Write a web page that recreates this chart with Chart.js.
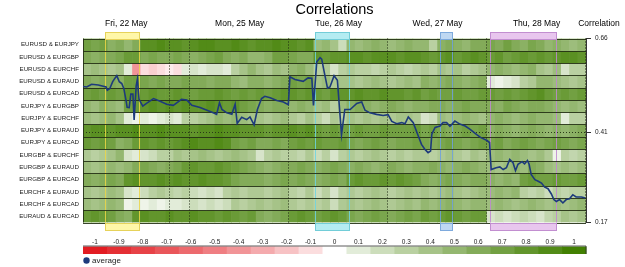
<!DOCTYPE html>
<html><head><meta charset="utf-8">
<script src="https://cdn.jsdelivr.net/npm/chart.js@4.4.1/dist/chart.umd.min.js"></script>
<style>html,body{margin:0;padding:0;background:#fff;overflow:hidden}canvas{display:block}</style>
</head><body>
<canvas id="c" width="625" height="267"></canvas>
<script>
// ---------- DATA ----------
const rowNames = ['EURUSD & EURJPY','EURUSD & EURGBP','EURUSD & EURCHF','EURUSD & EURAUD','EURUSD & EURCAD',
  'EURJPY & EURGBP','EURJPY & EURCHF','EURJPY & EURAUD','EURJPY & EURCAD','EURGBP & EURCHF',
  'EURGBP & EURAUD','EURGBP & EURCAD','EURCHF & EURAUD','EURCHF & EURCAD','EURAUD & EURCAD'];
const colHours = 2; // each heatmap column covers 2 hours
const eurusd_eurjpy = [0.7,0.65,0.7, 0.55,0.6,0.5,0.6, 0.85,0.85,0.9,0.85,0.85,0.8,0.85,0.9,0.9,0.85,0.85,0.9,0.85,0.8,0.85,0.85,0.9,0.85,0.85,0.8,0.85, 0.45,0.5,0.4,0.2, 0.5,0.45,0.5,0.55,0.5,0.45,0.5,0.55,0.5, 0.5,0.3,0.55,0.6,0.55,0.5,0.6,0.6, 0.65,0.6,0.7,0.6,0.55,0.65,0.6,0.5,0.55, 0.5,0.45,0.5];
const eurusd_eurgbp = [0.6,0.55,0.6,0.6,0.65, 0.75,0.75, 0.6,0.65,0.6,0.6,0.65,0.6,0.55, 0.6,0.65,0.7,0.6,0.55,0.6,0.5, 0.5,0.55,0.7,0.7, 0.65,0.6,0.6, 0.8,0.75,0.8,0.8, 0.85,0.85,0.8,0.85,0.85,0.85,0.8,0.85,0.85, 0.8,0.75,0.8,0.85,0.75,0.8,0.85,0.8, 0.75,0.8,0.7,0.75,0.8,0.75,0.8,0.75,0.8, 0.85,0.85,0.8];
const eurusd_eurchf = [0.4,0.45,0.4,0.35,0.4, 0.1, -0.4, -0.1,-0.15,-0.1,-0.05,-0.1, 0.1,0.15,0.1,0.15,0.15,0.1, 0.3,0.4,0.5, 0.4,0.35,0.45,0.4, 0.5,0.55,0.45, 0.3,0.35,0.15,0.3, 0.35,0.3,0.3,0.25,0.3,0.35,0.3,0.25,0.3, 0.35,0.3,0.4,0.35,0.4,0.3,0.35,0.4, 0.5,0.55,0.5,0.45,0.5,0.55,0.4,0.35,0.45, 0.15,0.3,0.3];
const eurusd_euraud = [0.6,0.55,0.6,0.6,0.55, 0.7,0.7, 0.65,0.6,0.65,0.6,0.6,0.65,0.6,0.6,0.55,0.6,0.6,0.5,0.45,0.55, 0.55,0.5,0.55,0.6, 0.7,0.65,0.7, 0.4,0.45,0.35,0.4, 0.4,0.35,0.4,0.45,0.4,0.35,0.4,0.45,0.4, 0.55,0.5,0.55,0.6,0.55,0.5,0.55,0.6, 0.1,0.05,0.1,0.15, 0.3,0.35,0.5,0.5,0.45, 0.4,0.35,0.4];
const eurusd_eurcad = [0.7,0.75,0.7,0.75,0.7,0.8,0.8,0.75,0.8,0.75,0.75,0.8,0.75,0.7,0.75,0.75,0.8,0.75,0.7,0.75,0.7, 0.75,0.7,0.75,0.8,0.8,0.75,0.8,0.75,0.7,0.8,0.8,0.8,0.85,0.8,0.8,0.85,0.8,0.8,0.75,0.8, 0.7,0.75,0.7,0.7,0.75,0.7,0.7,0.75,0.75,0.7,0.75,0.7,0.75,0.8,0.85,0.75,0.7,0.75,0.7,0.75];
const eurjpy_eurgbp = [0.5,0.45,0.55,0.5,0.45, 0.7,0.75, 0.8,0.85,0.8,0.85,0.8,0.85,0.8,0.8,0.85,0.8,0.75,0.8,0.7,0.65, 0.6,0.55,0.6,0.6, 0.5,0.55,0.5, 0.4,0.45,0.3,0.45, 0.55,0.6,0.55,0.5,0.55,0.6,0.55,0.5,0.55, 0.55,0.6,0.6,0.55,0.6,0.65,0.6,0.6, 0.6,0.55,0.65,0.6,0.55,0.6,0.6,0.55,0.5, 0.45,0.5,0.45];
const eurjpy_eurchf = [0.45,0.4,0.45,0.5,0.4, 0.1,0.05,0.1,0.05,0.1,0.15,0.1, 0.3,0.3,0.35,0.4, 0.5,0.45,0.5,0.45,0.4, 0.4,0.35,0.4,0.45, 0.35,0.3,0.4,0.3,0.2,0.35,0.3, 0.4,0.35,0.4,0.35,0.4,0.35,0.4,0.4,0.35, 0.15,0.2, 0.45,0.4,0.45,0.5,0.45,0.4, 0.5,0.55,0.5,0.45,0.5,0.55,0.5,0.5,0.45, 0.1,0.3,0.3];
const eurjpy_euraud = [0.8,0.85,0.85,0.8,0.85,0.85,0.9,0.85,0.85,0.9,0.85,0.85,0.85,0.8,0.85,0.85,0.9,0.85,0.85,0.8,0.8,0.8,0.75,0.8,0.8,0.85,0.8,0.85, 0.75,0.7,0.75,0.7,0.7,0.75,0.7,0.7,0.75,0.7,0.7,0.7,0.75, 0.65,0.7,0.65,0.6,0.65,0.7,0.65,0.7, 0.55,0.6,0.55,0.5,0.55,0.6,0.55,0.5,0.55,0.5,0.55,0.6];
const eurjpy_eurcad = [0.75,0.7,0.75,0.7, 0.55,0.6, 0.75,0.8,0.75,0.8,0.75,0.8, 0.85,0.9,0.85,0.85,0.9,0.85, 0.7,0.65,0.7, 0.6,0.6,0.65,0.6, 0.7,0.75,0.7,0.75,0.7,0.7,0.75, 0.65,0.6,0.65,0.7,0.65,0.6,0.65,0.65,0.7, 0.65,0.6,0.65,0.7,0.65,0.6,0.65,0.7, 0.65,0.7,0.6,0.65,0.7,0.65,0.6,0.65,0.7,0.65,0.6,0.65];
const eurgbp_eurchf = [0.35,0.3,0.35,0.4, 0.5, 0.15,0.1,0.15,0.2, 0.3,0.3, 0.4,0.35,0.4,0.45,0.4,0.35,0.4,0.45,0.4,0.35, 0.15,0.3,0.35,0.3, 0.3,0.25,0.35,0.2,0.3,0.15,0.3, 0.35,0.3,0.35,0.4,0.35,0.3,0.35,0.3,0.35, 0.35,0.3,0.35,0.4,0.35,0.3,0.4,0.35, 0.45,0.5,0.45,0.5,0.45,0.4,0.45, 0.35,0.05, 0.3,0.25,0.3];
const eurgbp_euraud = [0.45,0.4,0.45,0.5,0.45,0.5, 0.6,0.65,0.6,0.55,0.6,0.65, 0.75,0.8,0.75,0.75,0.8,0.75,0.7,0.65,0.6, 0.55,0.5,0.55,0.6, 0.6,0.65,0.6,0.55,0.6,0.65,0.6, 0.55,0.6,0.55,0.5,0.55,0.6,0.55,0.5,0.55, 0.55,0.6,0.55,0.5,0.55,0.6,0.55,0.5, 0.45,0.4,0.45,0.5,0.45,0.6,0.55,0.45,0.4,0.45,0.4,0.45];
const eurgbp_eurcad = [0.6,0.55,0.6,0.65,0.6, 0.8,0.85,0.8,0.8,0.85,0.8,0.85,0.8,0.8,0.85,0.8,0.8,0.75, 0.65,0.6,0.6, 0.6,0.55,0.6,0.65,0.6,0.65,0.6,0.55,0.6,0.65,0.6, 0.75,0.8,0.75,0.75,0.8,0.75,0.8,0.75,0.7, 0.6,0.55,0.6,0.65,0.6,0.55,0.6,0.6, 0.55,0.5,0.55,0.5, 0.7,0.75,0.7,0.7,0.75,0.7,0.7,0.75];
const eurchf_euraud = [0.4,0.35,0.4,0.45,0.4, 0.15,0.1,0.2, 0.3,0.35,0.3,0.25,0.3,0.2,0.15,0.2,0.15,0.3, 0.35,0.3,0.35, 0.35,0.3,0.35,0.4,0.3,0.25,0.35,0.2,0.3,0.15,0.3, 0.35,0.3,0.35,0.4,0.35,0.3,0.35,0.4,0.35, 0.4,0.35,0.4,0.45,0.4,0.35,0.4,0.45, 0.45,0.5,0.45,0.5, 0.3,0.25,0.3,0.2,0.3,0.25,0.3,0.3];
const eurchf_eurcad = [0.45,0.4,0.45,0.5,0.45, 0.05,0.1,0.05,0.1,0.05,0.1,0.1, 0.15,0.2,0.15,0.2,0.15,0.2, 0.35,0.3,0.35, 0.4,0.35,0.4,0.45,0.35,0.3,0.35,0.3,0.35,0.2,0.35, 0.4,0.35,0.4,0.45,0.4,0.35,0.4,0.45,0.4, 0.5,0.45,0.5,0.55,0.5,0.45,0.5,0.5, 0.45,0.5,0.45,0.4,0.45,0.5,0.45,0.4,0.45,0.4,0.45,0.5];
const euraud_eurcad = [0.75,0.8,0.75,0.7, 0.6,0.55, 0.8,0.85,0.8,0.8,0.85,0.8,0.8,0.85,0.8,0.8,0.75,0.8,0.75,0.7,0.75, 0.6,0.55,0.6,0.65, 0.75,0.8,0.75,0.7,0.75,0.8,0.75, 0.65,0.6,0.65,0.7,0.65,0.6,0.65,0.7,0.65, 0.75,0.7,0.75,0.8,0.75,0.7,0.75,0.75, 0.15,0.2,0.15,0.2,0.25,0.2,0.15,0.25,0.3, 0.4,0.35,0.4];
const heatRows = [eurusd_eurjpy, eurusd_eurgbp, eurusd_eurchf, eurusd_euraud, eurusd_eurcad,
  eurjpy_eurgbp, eurjpy_eurchf, eurjpy_euraud, eurjpy_eurcad, eurgbp_eurchf,
  eurgbp_euraud, eurgbp_eurcad, eurchf_euraud, eurchf_eurcad, euraud_eurcad];

// average correlation (hours since start, value)
const avgTime = [0,0.9,2.1,3.7,4.9,5.6,5.9,6.5,7.2,7.8,8.2,8.8,9.4,9.9,10.5,10.7,11.2,11.6,12.1,12.4,12.9,13.2,13.6,14.5,15.4,17.1,18.7,20.3,21.9,23.9,25.2,26.4,28.4,31.6,32.4,33.1,33.7,34.9,36.1,36.9,37.4,38.5,39.7,40.5,41.5,42.3,43.3,44.1,45.4,47.0,48.6,49.8,50.2,51.4,53.4,54.6,55.5,55.9,56.7,57.5,57.9,58.5,59.3,59.9,60.9,61.7,62.7,63.5,64.8,66.4,67.6,68.4,69.6,71.2,72.8,74.0,74.9,76.1,77.3,78.1,78.9,80.1,81.3,82.1,82.9,83.7,84.3,84.6,85.4,86.6,87.3,88.2,89.0,90.2,91.4,92.7,93.9,95.5,96.5,97.9,98.6,99.0,100.2,101.1,101.9,102.7,103.5,104.3,104.9,105.5,106.5,107.1,107.8,108.2,108.7,109.6,110.4,111.2,112.0,112.8,113.6,114.2,114.8,115.6,116.4,117.2,118.0,118.8,119.6,120.9,121.8];
const avgValue = [0.532,0.531,0.538,0.536,0.533,0.531,0.522,0.527,0.545,0.555,0.561,0.545,0.540,0.527,0.491,0.477,0.476,0.512,0.512,0.443,0.534,0.552,0.498,0.480,0.487,0.500,0.493,0.485,0.482,0.498,0.496,0.482,0.476,0.462,0.458,0.489,0.471,0.462,0.458,0.485,0.434,0.450,0.444,0.451,0.430,0.471,0.500,0.506,0.502,0.495,0.491,0.484,0.558,0.551,0.546,0.555,0.554,0.482,0.598,0.609,0.605,0.571,0.528,0.531,0.561,0.549,0.404,0.471,0.471,0.487,0.491,0.469,0.462,0.458,0.455,0.457,0.439,0.433,0.436,0.433,0.451,0.436,0.401,0.378,0.365,0.356,0.360,0.405,0.423,0.427,0.436,0.436,0.426,0.440,0.432,0.427,0.418,0.404,0.396,0.389,0.383,0.311,0.316,0.318,0.311,0.316,0.338,0.329,0.308,0.325,0.332,0.326,0.335,0.325,0.298,0.284,0.280,0.275,0.264,0.260,0.246,0.231,0.226,0.231,0.222,0.231,0.233,0.244,0.238,0.238,0.235];

const dayLabels = ['Fri, 22 May','Mon, 25 May','Tue, 26 May','Wed, 27 May','Thu, 28 May'];
const dayStart = [0,26,50,74,98];
const dayEnd = [21,50,74,98,122];
const dayBounds = [21,26,50,74,98,122];
const eventStart = [5.3,56.3,86.6,98.7];
const eventEnd = [13.6,64.5,89.5,114.7];
const avgTicks = [0.17,0.41,0.66];
const legendTicks = [-1,-0.9,-0.8,-0.7,-0.6,-0.5,-0.4,-0.3,-0.2,-0.1,0,0.1,0.2,0.3,0.4,0.5,0.6,0.7,0.8,0.9,1];

// ---------- STYLE ----------
const FONT = '"Liberation Sans", Arial, sans-serif';
const eventFill = ['#fff7a8','#b4ecf2','#bfd8f2','#e8c6ee'];
const eventStroke = ['#e6d25a','#72cdd8','#7eaadd','#c28ed0'];
const eventLine = ['rgba(236,214,70,0.85)','rgba(110,212,224,0.85)','rgba(110,160,222,0.85)','rgba(190,138,208,0.85)'];
const LINE_COLOR = '#1d3a7c';

function heatColor(v){
  const c = v >= 0 ? [66,128,2] : [226,28,34];
  const a = Math.pow(Math.min(1, Math.abs(v)), 0.82);
  return 'rgb(' + [0,1,2].map(i => Math.round(255 + (c[i]-255)*a)).join(',') + ')';
}

const overlay = {
  id: 'overlay',
  afterDatasetDraw(chart, args) {
    if (args.index !== 0) return;
    const {ctx, chartArea: a, scales: {x, y, y2}} = chart;
    ctx.save();
    eventStart.forEach((s, i) => {
      ctx.strokeStyle = eventLine[i]; ctx.lineWidth = 1;
      [s, eventEnd[i]].forEach(t => {
        const px = Math.round(x.getPixelForValue(t)) + 0.5;
        ctx.beginPath(); ctx.moveTo(px, a.top); ctx.lineTo(px, a.bottom); ctx.stroke();
      });
    });
    ctx.strokeStyle = 'rgba(35,48,20,0.9)'; ctx.lineWidth = 1;
    for (let i = 0; i <= rowNames.length; i++) {
      const py = Math.round(y.getPixelForValue(i)) + 0.5;
      ctx.beginPath(); ctx.moveTo(a.left, py); ctx.lineTo(a.right, py); ctx.stroke();
    }
    ctx.beginPath(); ctx.moveTo(Math.round(a.left)+0.5, a.top); ctx.lineTo(Math.round(a.left)+0.5, a.bottom); ctx.stroke();
    ctx.setLineDash([1,2]); ctx.strokeStyle = '#1c2610';
    dayBounds.forEach(t => {
      const px = Math.round(x.getPixelForValue(t)) - 0.5;
      ctx.beginPath(); ctx.moveTo(px, a.top); ctx.lineTo(px, a.bottom); ctx.stroke();
    });
    const py = Math.round(y2.getPixelForValue(avgTicks[1])) + 0.5;
    ctx.strokeStyle = '#2a3a18';
    ctx.beginPath(); ctx.moveTo(a.left, py); ctx.lineTo(a.right, py); ctx.stroke();
    ctx.restore();
  },
  afterDraw(chart) {
    const {ctx, chartArea: a, scales: {x}} = chart;
    ctx.save();
    ctx.fillStyle = '#000'; ctx.textAlign = 'center'; ctx.textBaseline = 'middle';
    ctx.font = '14.5px ' + FONT;
    ctx.fillText('Correlations', (a.left + a.right) / 2, 10);
    ctx.font = '8.5px ' + FONT;
    dayLabels.forEach((d, i) => ctx.fillText(d, x.getPixelForValue((dayStart[i] + dayEnd[i]) / 2), 24));
    ctx.fillText('Correlation', a.right + 13, 24);
    eventStart.forEach((s, i) => {
      const x0 = Math.round(x.getPixelForValue(s)) + 0.5, x1 = Math.round(x.getPixelForValue(eventEnd[i])) + 0.5;
      ctx.fillStyle = eventFill[i]; ctx.strokeStyle = eventStroke[i]; ctx.lineWidth = 1;
      [[a.top - 7, 7], [a.bottom, 7]].forEach(([yy, h]) => {
        ctx.fillRect(x0, Math.round(yy) + 0.5, x1 - x0, h);
        ctx.strokeRect(x0, Math.round(yy) + 0.5, x1 - x0, h);
      });
    });
    const n = legendTicks.length, w = (a.right - a.left) / n, by = a.bottom + 24;
    ctx.font = '6.5px ' + FONT;
    legendTicks.forEach((v, i) => {
      ctx.fillStyle = heatColor(v);
      ctx.fillRect(a.left + i * w, by, w + 0.5, 7.5);
      ctx.fillStyle = '#222';
      ctx.fillText(String(Math.round(v * 10) / 10), a.left + (i + 0.5) * w, by - 4.5);
    });
    ctx.strokeStyle = '#333'; ctx.lineWidth = 0.8;
    ctx.beginPath(); ctx.moveTo(a.left, by - 0.5); ctx.lineTo(a.right, by - 0.5); ctx.lineTo(a.right, by + 7.5); ctx.stroke();
    ctx.fillStyle = LINE_COLOR;
    ctx.beginPath(); ctx.arc(a.left + 3.5, by + 14, 3.2, 0, Math.PI * 2); ctx.fill();
    ctx.fillStyle = '#222'; ctx.textAlign = 'left'; ctx.font = '8px ' + FONT;
    ctx.fillText('average', a.left + 9, by + 14);
    ctx.restore();
  }
};

const datasets = heatRows.map((vals, r) => ({
  type: 'bar', label: rowNames[r], order: 1, xAxisID: 'x', yAxisID: 'y',
  data: vals.map((v, k) => ({x: (k + 0.5) * colHours, y: [r, r + 1]})),
  backgroundColor: vals.map(heatColor),
  borderWidth: 0, barPercentage: 1, categoryPercentage: 1, grouped: false
}));
datasets.push({
  type: 'line', label: 'average', order: 0, xAxisID: 'x', yAxisID: 'y2',
  data: avgTime.map((t, i) => ({x: t, y: avgValue[i]})),
  borderColor: LINE_COLOR, borderWidth: 1.6, pointRadius: 0, tension: 0, fill: false
});

Chart.defaults.font.family = FONT;
new Chart(document.getElementById('c'), {
  type: 'bar',
  data: {datasets},
  options: {
    responsive: false, animation: false, devicePixelRatio: 1,
    layout: {padding: {top: 38.5, bottom: 44.5, left: 0, right: 0}},
    plugins: {legend: {display: false}, tooltip: {enabled: false}, title: {display: false}},
    scales: {
      x: {type: 'linear', min: 0, max: 122, offset: false, display: false,
          afterBuildTicks: s => { s.ticks = dayBounds.map(v => ({value: v})); }},
      y: {type: 'linear', min: 0, max: 15, reverse: true, position: 'left', offset: false,
          afterBuildTicks: s => { s.ticks = rowNames.map((n, i) => ({value: i + 0.5})); },
          ticks: {callback: (v, i) => rowNames[i], font: {size: 6.2, family: FONT}, color: '#222', padding: 4, autoSkip: false},
          grid: {display: false, drawTicks: false}, border: {display: false},
          afterFit: s => { s.width = 83; }},
      y2: {type: 'linear', position: 'right', min: 0.17, max: 0.66,
          afterBuildTicks: s => { s.ticks = avgTicks.map(v => ({value: v})); },
          ticks: {callback: v => v.toFixed(2), font: {size: 6.5, family: FONT}, color: '#222', padding: 4},
          grid: {drawOnChartArea: false, tickLength: 5, tickColor: '#333'}, border: {display: true, color: '#333'},
          afterFit: s => { s.width = 39; }}
    }
  },
  plugins: [overlay]
});
</script>
</body></html>
